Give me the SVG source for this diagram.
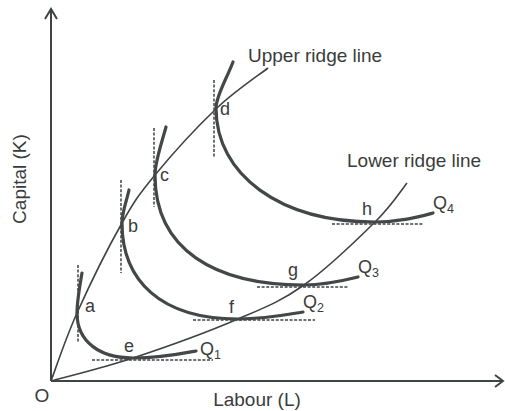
<svg xmlns="http://www.w3.org/2000/svg" width="505" height="411" viewBox="0 0 505 411">
<style>
text{font-family:"Liberation Sans",Arial,sans-serif;fill:#3a3c3c}
.lab{font-size:19px}
.pt{font-size:18px}
.sub{font-size:12.5px}
.axis{fill:none;stroke:#3f4343;stroke-width:2}
.ridge{fill:none;stroke:#3f4343;stroke-width:1.6}
.iso{fill:none;stroke:#434747;stroke-width:3.2;stroke-linecap:round}
.dash{fill:none;stroke:#3f4343;stroke-width:1.5;stroke-dasharray:3 1.6}
</style>
<rect width="505" height="411" fill="#ffffff"/>
<g id="axes">
<path class="axis" d="M51,381 V9 M45,19 L51,9 L57,19"/>
<path class="axis" d="M51,381 H503 M495,375 L503,381 L495,387"/>
<text class="lab" x="42" y="402" text-anchor="middle">O</text>
<text class="lab" x="257" y="406" text-anchor="middle">Labour (L)</text>
<text class="lab" transform="translate(26,179) rotate(-90)" text-anchor="middle">Capital (K)</text>
</g>
<g id="connectors">
<g id="tangents">
<path class="dash" d="M78,265 V342"/>
<path class="dash" d="M121,180 V273"/>
<path class="dash" d="M154,128 V207"/>
<path class="dash" d="M214,80 V158"/>
<path class="dash" d="M92,360 H213"/>
<path class="dash" d="M193,320 H315"/>
<path class="dash" d="M257,287 H348"/>
<path class="dash" d="M332,224 H423"/>
</g>
<g id="upper-ridge">
<path class="ridge" d="M51,381 C55.3,369.7 65.2,339.3 77,313 C88.8,286.7 109,246 122,223 C135,200 139.2,194.2 155,175 C170.8,155.8 198.2,125.8 217,108 C235.8,90.2 259.5,74.7 268,68"/>
<text class="lab" x="248" y="62">Upper ridge line</text>
</g>
<g id="lower-ridge">
<path class="ridge" d="M51,381 C64.7,377.2 101.8,368.3 133,358 C164.2,347.7 209.5,331.2 238,319 C266.5,306.8 281.2,301.2 304,285 C326.8,268.8 357.8,239 375,222 C392.2,205 401.7,189.5 407,183"/>
<text class="lab" x="347" y="167">Lower ridge line</text>
</g>
</g>
<g id="Q1">
<path class="iso" d="M82,273 C79,290 77,303 77,313 C77,342 100,358 133,358 C160,358 180,354 196,351"/>
<text class="pt" x="200" y="355">Q<tspan class="sub" dy="4">1</tspan></text>
</g>
<g id="Q2">
<path class="iso" d="M129,190 C126,203 122,213 122,223 C122,280 160,319 238,319 C265,319 285,315 303,312"/>
<text class="pt" x="303" y="308">Q<tspan class="sub" dy="4">2</tspan></text>
</g>
<g id="Q3">
<path class="iso" d="M166,127 C161,145 155,162 155,175 C155,250 215,285 304,285 C325,285 342,281 358,277"/>
<text class="pt" x="358" y="273">Q<tspan class="sub" dy="4">3</tspan></text>
</g>
<g id="Q4">
<path class="iso" d="M233,62 C227,78 216,96 216,108 C216,175 280,222 375,222 C400,222 418,217 433,213"/>
<text class="pt" x="433" y="209">Q<tspan class="sub" dy="4">4</tspan></text>
</g>
<g id="points">
<text class="pt" x="85" y="312">a</text>
<text class="pt" x="128" y="232">b</text>
<text class="pt" x="160" y="181">c</text>
<text class="pt" x="220" y="115">d</text>
<text class="pt" x="124" y="352">e</text>
<text class="pt" x="229" y="313">f</text>
<text class="pt" x="288" y="276">g</text>
<text class="pt" x="362" y="215">h</text>
</g>
</svg>
